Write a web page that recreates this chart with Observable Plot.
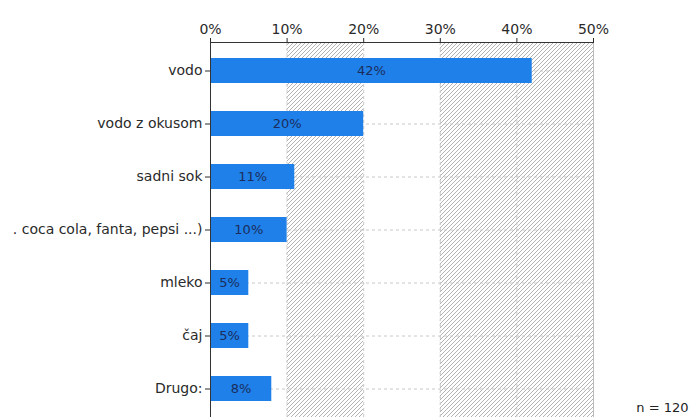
<!DOCTYPE html>
<html>
<head>
<meta charset="utf-8">
<script src="https://cdn.jsdelivr.net/npm/d3@7"></script>
<script src="https://cdn.jsdelivr.net/npm/@observablehq/plot@0.6"></script>
<style>
  html, body { margin: 0; padding: 0; background: #fff; }
  #chart { position: relative; width: 691px; height: 417px; overflow: hidden; }
</style>
</head>
<body>
<svg width="0" height="0" style="position:absolute">
  <defs>
    <pattern id="hatch" patternUnits="userSpaceOnUse" width="4" height="4">
      <rect width="4" height="4" fill="#fff"></rect>
      <path d="M-1,1 l2,-2 M0,4 l4,-4 M3,5 l2,-2" stroke="#aaaaaa" stroke-width="0.9"></path>
    </pattern>
  </defs>
</svg>
<div id="chart"></div>
<script>
const categories = ["vodo", "vodo z okusom", "sadni sok", ". coca cola, fanta, pepsi ...)", "mleko", "čaj", "Drugo:"];
const values = [42, 20, 11, 10, 5, 5, 8];
const xTicks = [0, 10, 20, 30, 40, 50];
const hatchStart = [10, 30];
const hatchEnd = [20, 50];
const sampleNote = "n = 120";

const data = categories.map((c, i) => ({cat: c, value: values[i]}));
const bands = hatchStart.map((s, i) => ({a: s, b: hatchEnd[i]}));

const font = "'DejaVu Sans', Verdana, sans-serif";

const chart = Plot.plot({
  width: 691,
  height: 417,
  marginTop: 42,
  marginLeft: 210,
  marginRight: 98,
  marginBottom: 0,
  style: {fontFamily: font, fontSize: "14px", color: "#2a2a2a", background: "#fff", overflow: "visible"},
  x: {domain: [0, 50], axis: "top", ticks: xTicks, tickFormat: d => d + "%", label: null, tickSize: 5, tickPadding: 4},
  y: {domain: categories, paddingInner: 0.53, paddingOuter: 0.265, label: null, tickSize: 5, tickPadding: 3},
  marks: [
    Plot.rect(bands, {x1: "a", x2: "b", fill: "url(#hatch)"}),
    Plot.gridX(xTicks, {stroke: "#c8c8c8", strokeOpacity: 1, strokeDasharray: "3,3"}),
    Plot.gridY(categories, {stroke: "#c8c8c8", strokeOpacity: 1, strokeDasharray: "3,3"}),
    Plot.barX(data, {y: "cat", x: "value", fill: "#1e80e8"}),
    Plot.text(data, {y: "cat", x: d => d.value / 2, text: d => d.value + "%", fill: "#1b2d5c", fontSize: 13}),
    Plot.ruleX([50], {stroke: "#bbb"}),
    Plot.ruleX([0], {stroke: "#333"}),
    Plot.frame({anchor: "top", stroke: "#333"}),
    Plot.text([sampleNote], {frameAnchor: "bottom-right", dx: 95, dy: -6, textAnchor: "end", fill: "#222", fontSize: 13})
  ]
});
document.getElementById("chart").appendChild(chart);
</script>
</body>
</html>
